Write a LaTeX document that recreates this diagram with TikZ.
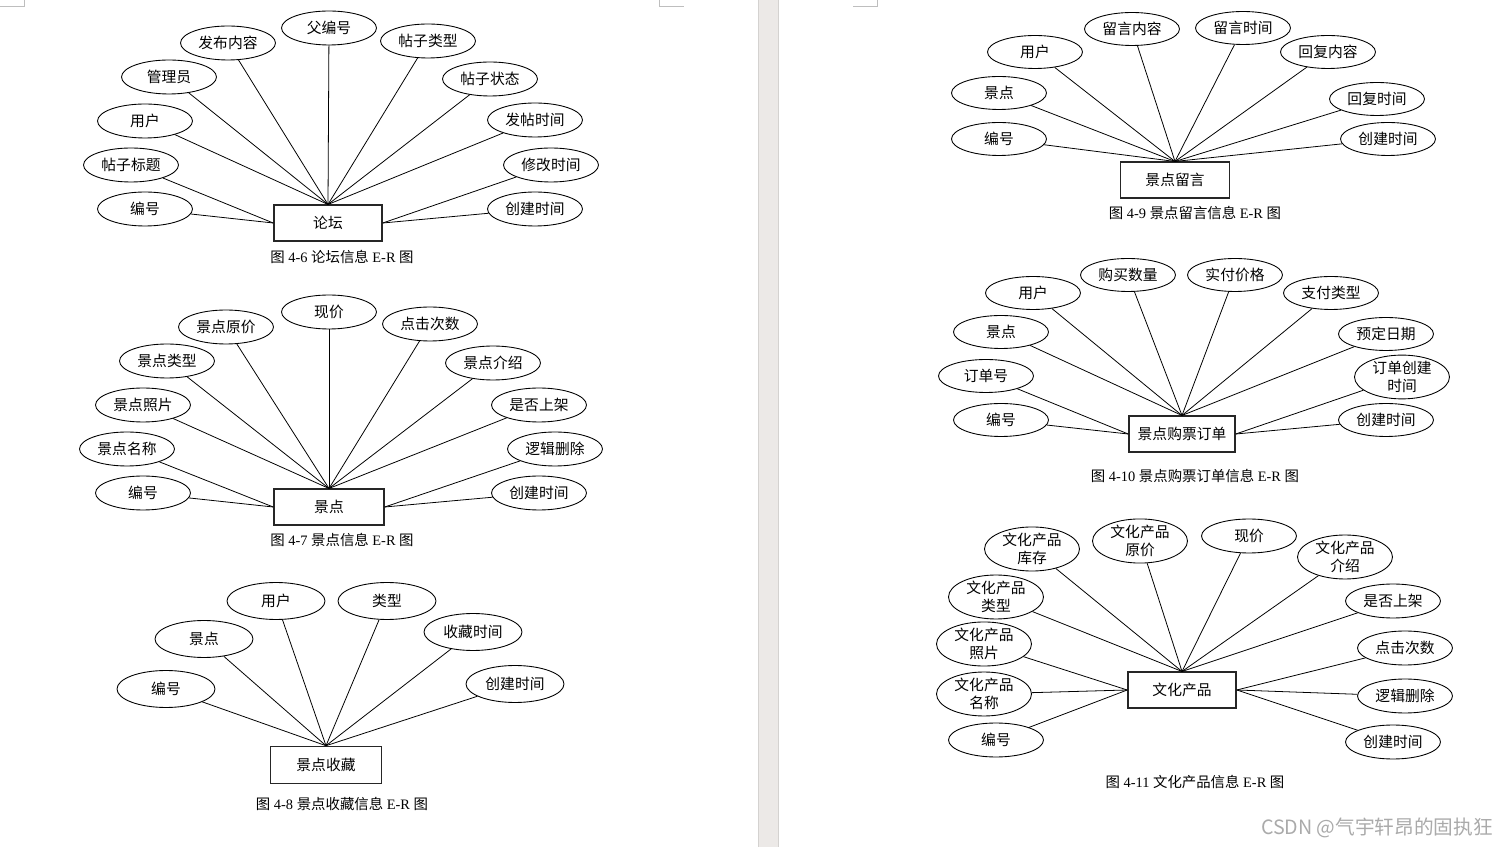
\documentclass[tikz,border=0pt]{standalone}
\usepackage{fontspec}
\setmainfont{Liberation Serif}
\newfontfamily\cjk{Noto Sans CJK SC}
\usetikzlibrary{shapes.geometric}
\definecolor{bandgray}{RGB}{236,233,231}
\definecolor{bandedge}{RGB}{212,210,208}
\definecolor{cropgray}{RGB}{190,190,190}
\definecolor{markgray}{RGB}{170,170,170}
\newcommand\ercap[2]{{\cjk 图} #1 {\cjk #2} E-R {\cjk 图}}

\begin{document}
\begin{tikzpicture}[x=0.02cm,y=-0.02cm,
  attr/.style={ellipse,draw,line width=0.5pt,inner sep=0pt,minimum width=1.9cm,minimum height=0.68cm,
    align=center,font=\cjk\fontsize{8.4}{9.9}\selectfont},
  attr2/.style={attr,minimum height=0.88cm},
  ent/.style={rectangle,draw=black!85,line width=0.9pt,minimum width=2.16cm,minimum height=0.71cm,
    font=\cjk\fontsize{8.4}{9.9}\selectfont},
  figcap/.style={font=\fontsize{8.2}{9.6}\selectfont},
  every edge/.style={draw,line width=0.45pt}]
\useasboundingbox (0,0) rectangle (1509,847);
% page gap and crop marks
\fill[bandgray] (758,0) rectangle (778,847);
\draw[bandedge] (758,0) -- (758,847) (778,0) -- (778,847);
\draw[cropgray] (0,6) -- (24,6) -- (24,0) (659,0) -- (659,6) -- (684,6) (853,6) -- (877,6) -- (877,0);

% 4-6
\node[ent] (lt) at (328,223) {论坛};
\node[attr] (lt-pid) at (329,28) {父编号};
\node[attr] (lt-text) at (228,43) {发布内容};
\node[attr] (lt-type) at (428,41) {帖子类型};
\node[attr] (lt-admin) at (169,77) {管理员};
\node[attr] (lt-state) at (490,79) {帖子状态};
\node[attr] (lt-user) at (145,121) {用户};
\node[attr] (lt-post) at (535,120) {发帖时间};
\node[attr] (lt-title) at (131,165) {帖子标题};
\node[attr] (lt-mod) at (551,165) {修改时间};
\node[attr] (lt-id) at (145,209) {编号};
\node[attr] (lt-ctime) at (535,209) {创建时间};
\node[figcap] (lt-cap) at (342,257) {\ercap{4-6}{论坛信息}};
\path (lt.north) edge (lt-pid) edge (lt-text) edge (lt-type) edge (lt-admin)
  edge (lt-state) edge (lt-user) edge (lt-post);
\path (lt.west) edge (lt-title) edge (lt-id);
\path (lt.east) edge (lt-mod) edge (lt-ctime);

% 4-7
\node[ent,minimum width=2.2cm] (jd) at (329,507) {景点};
\node[attr] (jd-price) at (329,312) {现价};
\node[attr] (jd-oprice) at (226,327) {景点原价};
\node[attr] (jd-click) at (430,324) {点击次数};
\node[attr] (jd-type) at (167,361) {景点类型};
\node[attr] (jd-intro) at (493,363) {景点介绍};
\node[attr] (jd-photo) at (143,405) {景点照片};
\node[attr] (jd-shelf) at (539,405) {是否上架};
\node[attr] (jd-name) at (127,449) {景点名称};
\node[attr] (jd-del) at (555,449) {逻辑删除};
\node[attr] (jd-id) at (143,493) {编号};
\node[attr] (jd-ctime) at (539,493) {创建时间};
\node[figcap] (jd-cap) at (342,540) {\ercap{4-7}{景点信息}};
\path (jd.north) edge (jd-price) edge (jd-oprice) edge (jd-click) edge (jd-type)
  edge (jd-intro) edge (jd-photo) edge (jd-shelf);
\path (jd.west) edge (jd-name) edge (jd-id);
\path (jd.east) edge (jd-del) edge (jd-ctime);

% 4-8
\node[ent,minimum width=2.22cm,minimum height=0.74cm] (sc) at (326,765) {景点收藏};
\node[attr,minimum width=1.96cm,minimum height=0.74cm] (sc-user) at (276,601) {用户};
\node[attr,minimum width=1.96cm,minimum height=0.74cm] (sc-type) at (387,601) {类型};
\node[attr,minimum width=1.96cm,minimum height=0.74cm] (sc-spot) at (204,639) {景点};
\node[attr,minimum width=1.96cm,minimum height=0.74cm] (sc-time) at (473,632) {收藏时间};
\node[attr,minimum width=1.96cm,minimum height=0.74cm] (sc-id) at (166,689) {编号};
\node[attr,minimum width=1.96cm,minimum height=0.74cm] (sc-ctime) at (515,684) {创建时间};
\node[figcap] (sc-cap) at (342,804) {\ercap{4-8}{景点收藏信息}};
\path (sc.north) edge (sc-user) edge (sc-type) edge (sc-spot) edge (sc-time)
  edge (sc-id) edge (sc-ctime);

% 4-9
\node[ent,minimum width=2.18cm] (ly) at (1175,180) {景点留言};
\node[attr,minimum height=0.66cm] (ly-msg) at (1132,29) {留言内容};
\node[attr,minimum height=0.66cm] (ly-mtime) at (1243,28) {留言时间};
\node[attr,minimum height=0.66cm] (ly-user) at (1035,52) {用户};
\node[attr,minimum height=0.66cm] (ly-reply) at (1328,52) {回复内容};
\node[attr,minimum height=0.66cm] (ly-spot) at (999,93) {景点};
\node[attr,minimum height=0.66cm] (ly-rtime) at (1377,99) {回复时间};
\node[attr,minimum height=0.66cm] (ly-id) at (999,139) {编号};
\node[attr,minimum height=0.66cm] (ly-ctime) at (1388,139) {创建时间};
\node[figcap] (ly-cap) at (1195,213) {\ercap{4-9}{景点留言信息}};
\path (ly.north) edge (ly-msg) edge (ly-mtime) edge (ly-user) edge (ly-reply)
  edge (ly-spot) edge (ly-rtime) edge (ly-id) edge (ly-ctime);

% 4-10
\node[ent,minimum width=2.12cm] (gp) at (1182,434) {景点购票订单};
\node[attr,minimum height=0.66cm] (gp-num) at (1128,275) {购买数量};
\node[attr,minimum height=0.66cm] (gp-pay) at (1235,275) {实付价格};
\node[attr,minimum height=0.66cm] (gp-user) at (1033,293) {用户};
\node[attr,minimum height=0.66cm] (gp-ptype) at (1331,293) {支付类型};
\node[attr,minimum height=0.66cm] (gp-spot) at (1001,332) {景点};
\node[attr,minimum height=0.66cm] (gp-date) at (1386,334) {预定日期};
\node[attr,minimum height=0.66cm] (gp-no) at (986,376) {订单号};
\node[attr,minimum height=0.82cm] (gp-otime) at (1402,377) {订单创建\\时间};
\node[attr,minimum height=0.66cm] (gp-id) at (1001,420) {编号};
\node[attr,minimum height=0.66cm] (gp-ctime) at (1386,420) {创建时间};
\node[figcap] (gp-cap) at (1195,476) {\ercap{4-10}{景点购票订单信息}};
\path (gp.north) edge (gp-num) edge (gp-pay) edge (gp-user) edge (gp-ptype)
  edge (gp-spot) edge (gp-date);
\path (gp.west) edge (gp-no) edge (gp-id);
\path (gp.east) edge (gp-otime) edge (gp-ctime);

% 4-11
\node[ent] (wc) at (1182,690) {文化产品};
\node[attr2] (wc-stock) at (1032,549) {文化产品\\库存};
\node[attr2] (wc-oprice) at (1140,541) {文化产品\\原价};
\node[attr] (wc-price) at (1249,536) {现价};
\node[attr2] (wc-intro) at (1345,557) {文化产品\\介绍};
\node[attr2] (wc-type) at (996,597) {文化产品\\类型};
\node[attr] (wc-shelf) at (1393,601) {是否上架};
\node[attr2] (wc-photo) at (984,644) {文化产品\\照片};
\node[attr] (wc-click) at (1405,648) {点击次数};
\node[attr2] (wc-name) at (984,694) {文化产品\\名称};
\node[attr] (wc-del) at (1405,696) {逻辑删除};
\node[attr] (wc-id) at (996,740) {编号};
\node[attr] (wc-ctime) at (1393,742) {创建时间};
\node[figcap] (wc-cap) at (1195,782) {\ercap{4-11}{文化产品信息}};
\path (wc.north) edge (wc-stock) edge (wc-oprice) edge (wc-price) edge (wc-intro)
  edge (wc-type) edge (wc-shelf);
\path (wc.west) edge (wc-photo) edge (wc-name) edge (wc-id);
\path (wc.east) edge (wc-click) edge (wc-del) edge (wc-ctime);

\node[font=\cjk\fontsize{11.2}{13}\selectfont,text=markgray] (mark) at (1377,828) {CSDN @气宇轩昂的固执狂};
\end{tikzpicture}
\end{document}
